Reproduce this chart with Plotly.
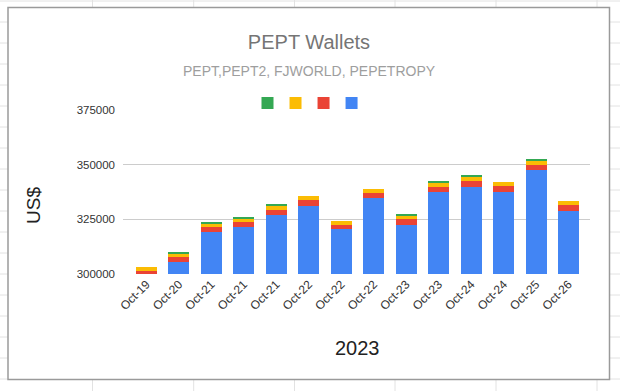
import plotly.graph_objects as go

# ---- data ----
categories = ["Oct-19", "Oct-20", "Oct-21", "Oct-21", "Oct-21", "Oct-22", "Oct-22",
              "Oct-22", "Oct-23", "Oct-23", "Oct-24", "Oct-24", "Oct-25", "Oct-26"]
blue_vals = [299300, 305300, 319300, 321300, 327100, 331300, 320400,
             334600, 322500, 337700, 340000, 337700, 347600, 328900]
red_vals = [2200, 2300, 2300, 2600, 2300, 2600, 2100,
            2500, 2800, 2100, 2600, 2600, 2300, 2700]
yellow_vals = [1800, 1900, 1500, 1500, 1900, 1800, 1800,
               1900, 1300, 1900, 1800, 1800, 1800, 2000]
green_vals = [0, 300, 300, 500, 300, 0, 0,
              0, 500, 400, 500, 0, 500, 0]
y_ticks = [300000, 325000, 350000, 375000]

W, H = 620, 391
L, R, T, B = 123, 30, 110, 117
PW, PH = W - L - R, H - T - B

def px(x):
    return (x - L) / PW

def py(y):
    return (H - B - y) / PH

xs = list(range(len(categories)))

fig = go.Figure()
series = [("blue", blue_vals, "#4285F4"), ("red", red_vals, "#EA4335"),
          ("yellow", yellow_vals, "#FBBC04"), ("green", green_vals, "#34A853")]
for name, vals, col in series:
    fig.add_trace(go.Bar(x=xs, y=vals, name=" ", marker=dict(color=col, line=dict(width=0)),
                         showlegend=True, hoverinfo="skip"))

shapes = []
# spreadsheet background grid
for gx in [92.5, 193.7, 294.5, 395, 496, 597]:
    shapes.append(dict(type="line", xref="paper", yref="paper", x0=px(gx), x1=px(gx),
                       y0=py(0), y1=py(H), line=dict(color="#e2e2e2", width=1), layer="below"))
for k in range(20):
    gy = 1 + 21 * k
    shapes.append(dict(type="line", xref="paper", yref="paper", x0=px(0), x1=px(W),
                       y0=py(gy), y1=py(gy), line=dict(color="#e2e2e2", width=1), layer="below"))
# chart box
shapes.append(dict(type="rect", xref="paper", yref="paper", x0=px(8), x1=px(609.5),
                   y0=py(379.5), y1=py(7.5), fillcolor="white",
                   line=dict(color="#9a9a9a", width=1.5), layer="below"))

annotations = [
    dict(text="PEPT,PEPT2, FJWORLD, PEPETROPY", xref="paper", yref="paper", x=px(309), y=py(71),
         showarrow=False, xanchor="center", yanchor="middle",
         font=dict(size=14, color="#9e9e9e")),
    dict(text="US$", xref="paper", yref="paper", x=px(33), y=py(206), textangle=-90,
         showarrow=False, xanchor="center", yanchor="middle",
         font=dict(size=19, color="#222")),
    dict(text="2023", xref="paper", yref="paper", x=px(357), y=py(348),
         showarrow=False, xanchor="center", yanchor="middle",
         font=dict(size=20, color="#222")),
]

fig.update_layout(
    width=W, height=H,
    margin=dict(l=L, r=R, t=T, b=B, autoexpand=False),
    paper_bgcolor="white", plot_bgcolor="rgba(0,0,0,0)",
    barmode="stack", bargap=0.35,
    font=dict(family="Liberation Sans, Arial, sans-serif", color="#444"),
    title=dict(text="PEPT Wallets", x=309/620, xanchor="center", y=1 - 42/391, yanchor="middle",
               automargin=False, font=dict(size=20, color="#757575")),
    legend=dict(orientation="h", xref="container", yref="container", x=304/620, xanchor="center",
                y=1 - 103/391, yanchor="middle", traceorder="reversed",
                entrywidthmode="fraction", entrywidth=0.060,
                font=dict(size=1), bgcolor="rgba(0,0,0,0)"),
    shapes=shapes,
    annotations=annotations,
    xaxis=dict(tickmode="array", tickvals=xs, ticktext=categories, range=[-0.72, 13.66],
               tickangle=-45, tickfont=dict(size=12, color="#333"), showgrid=False,
               showline=False, zeroline=False, ticks="", automargin=False),
    yaxis=dict(range=[300000, 375000], tickmode="array", tickvals=y_ticks,
               ticktext=[str(v) for v in y_ticks], tickfont=dict(size=11.5, color="#333"),
               showgrid=True, gridcolor="#cccccc", gridwidth=1, zeroline=False, showline=False,
               ticks="", ticklabelstandoff=7, automargin=False),
)

fig.write_html("out.html", config={"displayModeBar": False},
               post_script="document.body.style.margin='0';document.body.style.overflow='hidden';")
